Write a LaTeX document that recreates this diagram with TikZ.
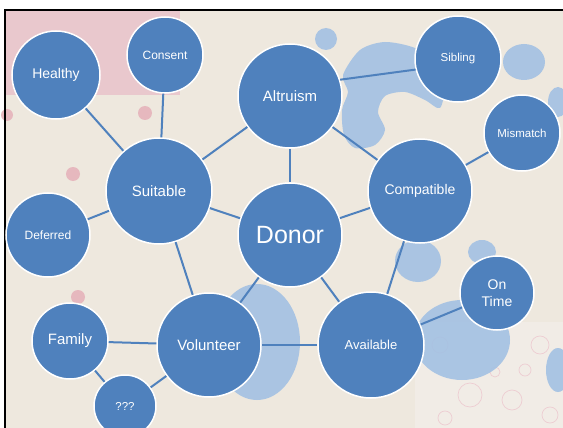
\documentclass[tikz,border=0pt]{standalone}
\usepackage{fontspec}
\setmainfont{Liberation Sans}
\newcommand{\pxunit}{1pt}
\definecolor{bubbleblue}{HTML}{4F81BD}
\definecolor{quiltbase}{HTML}{EEE8DE}
\definecolor{quiltlight}{HTML}{F1ECE6}
\definecolor{quiltpink}{HTML}{E9C8CD}
\definecolor{quiltdot}{HTML}{E6B8BE}
\definecolor{quiltblue}{HTML}{A3C1E3}

\begin{document}
\begin{tikzpicture}[x=\pxunit,y=-\pxunit]
\useasboundingbox (0,0) rectangle (563,428);
\tikzstyle{bubble}=[draw=white,
                    line width=1.5pt,
                    circle,
                    fill=bubbleblue,
                    text=white,
                    inner sep=0pt,
                    align=center
                    ]
\tikzstyle{link}=[bubbleblue, line width=2pt]
\tikzstyle{patch}=[quiltblue, opacity=0.9]

% quilt backdrop
\fill[white] (0,0) rectangle (563,428);
\fill[quiltbase] (5,10) rectangle (563,428);
\fill[quiltpink] (5,10) rectangle (180,95);
\fill[quiltlight] (415,322) rectangle (563,428);
\draw[quiltdot!70, line width=0.7pt] (440,345) circle (8);
\draw[quiltdot!70, line width=0.7pt] (470,395) circle (12);
\draw[quiltdot!70, line width=0.7pt] (512,400) circle (10);
\draw[quiltdot!70, line width=0.7pt] (540,345) circle (9);
\draw[quiltdot!70, line width=0.7pt] (525,370) circle (6);
\draw[quiltdot!70, line width=0.7pt] (445,418) circle (7);
\draw[quiltdot!70, line width=0.7pt] (495,372) circle (5);
\draw[quiltdot!70, line width=0.7pt] (550,415) circle (8);
\fill[quiltdot] (145,113) circle (7);
\fill[quiltdot] (73,174) circle (7);
\fill[quiltdot] (78,297) circle (7);
\fill[quiltdot] (7,115) circle (6);
\fill[patch] plot[smooth cycle] coordinates {(343,75) (360,50) (385,42) (415,48) (432,62) (444,85) (440,108) (425,100) (405,92) (385,96) (378,112) (385,130) (375,145) (355,148) (344,135) (342,110) (348,92)};
\fill[patch] (326,39) ellipse (11 and 11);
\fill[patch] (524,62) ellipse (21 and 18);
\fill[patch] (558,102) ellipse (10 and 15);
\fill[patch] (418,261) ellipse (23 and 21);
\fill[patch] (482,252) ellipse (14 and 12);
\fill[patch] (462,340) ellipse (48 and 40);
\fill[patch] (257,342) ellipse (43 and 58);
\fill[patch] (558,370) ellipse (12 and 22);
\draw[black, line width=2pt] (5,428) -- (5,10) -- (563,10);

% bubbles
\node[bubble, minimum size=104*\pxunit, font=\fontsize{25}{28}\selectfont] (donor) at (290,235) {Donor};
\node[bubble, minimum size=104*\pxunit, font=\fontsize{15}{18}\selectfont] (altruism) at (290,96) {Altruism};
\node[bubble, minimum size=106*\pxunit, font=\fontsize{15}{18}\selectfont] (suitable) at (159,191) {Suitable};
\node[bubble, minimum size=104*\pxunit, font=\fontsize{14}{17}\selectfont] (compatible) at (420,191) {Compatible};
\node[bubble, minimum size=104*\pxunit, font=\fontsize{15}{18}\selectfont] (volunteer) at (209,345) {Volunteer};
\node[bubble, minimum size=106*\pxunit, font=\fontsize{13}{16}\selectfont] (available) at (371,345) {Available};
\node[bubble, minimum size=88*\pxunit, font=\fontsize{14}{17}\selectfont] (healthy) at (56,75) {Healthy};
\node[bubble, minimum size=76*\pxunit, font=\fontsize{12}{14}\selectfont] (consent) at (165,55) {Consent};
\node[bubble, minimum size=84*\pxunit, font=\fontsize{12}{14}\selectfont] (deferred) at (48,235) {Deferred};
\node[bubble, minimum size=86*\pxunit, font=\fontsize{11.5}{14}\selectfont] (sibling) at (458,59) {Sibling};
\node[bubble, minimum size=76*\pxunit, font=\fontsize{11.5}{14}\selectfont] (mismatch) at (522,133) {Mismatch};
\node[bubble, minimum size=76*\pxunit, font=\fontsize{15}{18}\selectfont] (family) at (70,341) {Family};
\node[bubble, minimum size=62*\pxunit, font=\fontsize{11.5}{14}\selectfont] (unknown) at (125,406) {???};
\node[bubble, minimum size=74*\pxunit, font=\fontsize{14}{17}\selectfont] (ontime) at (497,293) {On\\Time};

% links
\draw[link] (healthy) -- (suitable);
\draw[link] (consent) -- (suitable);
\draw[link] (deferred) -- (suitable);
\draw[link] (suitable) -- (altruism);
\draw[link] (suitable) -- (donor);
\draw[link] (suitable) -- (volunteer);
\draw[link] (altruism) -- (donor);
\draw[link] (altruism.18) -- (sibling.194);
\draw[link] (altruism) -- (compatible);
\draw[link] (compatible) -- (mismatch);
\draw[link] (compatible) -- (donor);
\draw[link] (compatible) -- (available);
\draw[link] (donor) -- (volunteer);
\draw[link] (donor) -- (available);
\draw[link] (volunteer) -- (available);
\draw[link] (volunteer) -- (family);
\draw[link] (volunteer) -- (unknown);
\draw[link] (family) -- (unknown);
\draw[link] (available) -- (ontime);

\end{tikzpicture}
\end{document}
